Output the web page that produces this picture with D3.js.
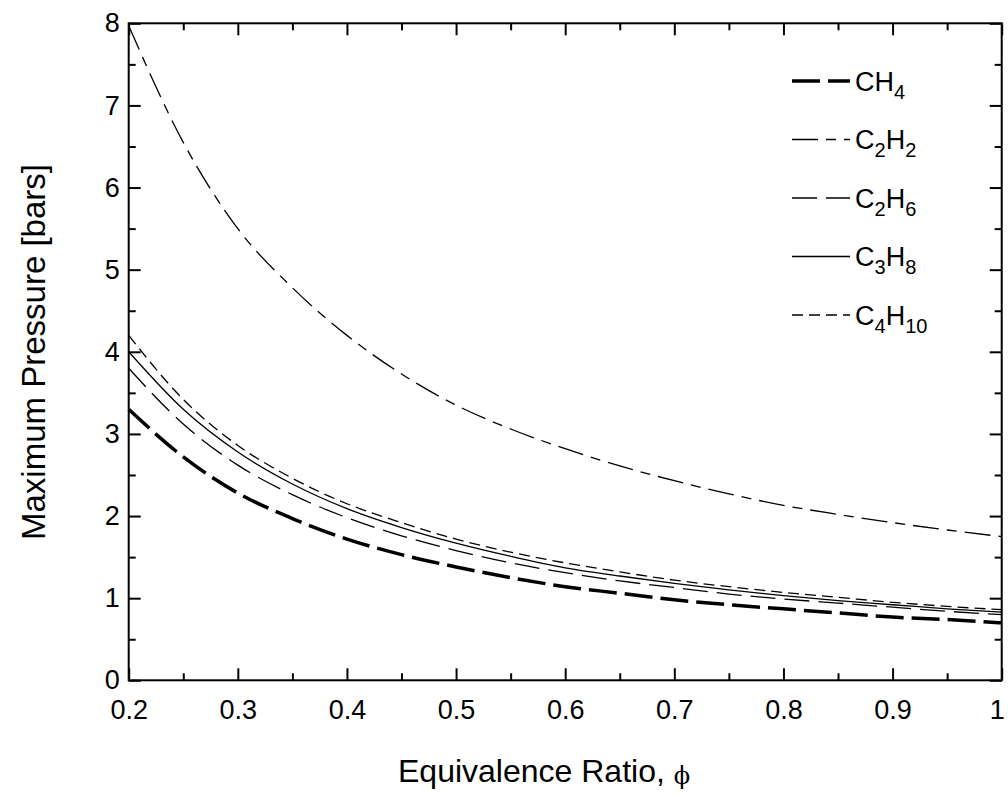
<!DOCTYPE html>
<html>
<head>
<meta charset="utf-8">
<script src="https://cdn.jsdelivr.net/npm/d3@7"></script>
<style>
  body { margin: 0; background: #fff; }
  text { font-family: "Liberation Sans", Arial, sans-serif; fill: #000; }
</style>
</head>
<body>
<div id="chart"></div>
<script>
// values, every 0.05 in phi
var phi = [0.20, 0.25, 0.30, 0.35, 0.40, 0.45, 0.50, 0.55, 0.60, 0.65, 0.70, 0.75, 0.80, 0.85, 0.90, 0.95, 1.00];
var ch4   = [3.30, 2.72, 2.28, 1.97, 1.72, 1.53, 1.38, 1.25, 1.14, 1.06, 0.98, 0.92, 0.87, 0.82, 0.77, 0.74, 0.70];
var c2h2  = [7.97, 6.55, 5.50, 4.78, 4.20, 3.73, 3.35, 3.06, 2.82, 2.61, 2.43, 2.27, 2.13, 2.02, 1.92, 1.83, 1.75];
var c2h6  = [3.80, 3.12, 2.62, 2.26, 1.98, 1.76, 1.58, 1.43, 1.31, 1.21, 1.13, 1.05, 0.99, 0.94, 0.89, 0.84, 0.80];
var c3h8  = [4.00, 3.30, 2.78, 2.39, 2.09, 1.86, 1.67, 1.51, 1.37, 1.27, 1.18, 1.10, 1.03, 0.97, 0.92, 0.87, 0.83];
var c4h10 = [4.20, 3.42, 2.86, 2.46, 2.15, 1.92, 1.72, 1.56, 1.43, 1.32, 1.22, 1.14, 1.07, 1.01, 0.95, 0.90, 0.86];

var xTicks = [0.2, 0.3, 0.4, 0.5, 0.6, 0.7, 0.8, 0.9, 1.0];
var xTickLabels = ["0.2", "0.3", "0.4", "0.5", "0.6", "0.7", "0.8", "0.9", "1"];
var yTicks = [0, 1, 2, 3, 4, 5, 6, 7, 8];

var svgWidth = 1008;
var svgHeight = 796;
var margin = {top: 23.3, right: 6.3, bottom: 115.7, left: 128.7};
var width = svgWidth - margin.left - margin.right;
var height = svgHeight - margin.top - margin.bottom;

var svg = d3.select("#chart")
  .append("svg")
  .attr("width", svgWidth)
  .attr("height", svgHeight);

var chartGroup = svg.append("g")
  .attr("transform", `translate(${margin.left}, ${margin.top})`);

var xScale = d3.scaleLinear().domain([0.2, 1.0]).range([0, width]);
var yScale = d3.scaleLinear().domain([0, 8]).range([height, 0]);

var series = [
  {name: "CH", sub: "4", values: ch4, width: 3.5, dash: "28,8"},
  {name: "C", sub: "2", name2: "H", sub2: "2", values: c2h2, width: 1.3, dash: "26,8,10,8"},
  {name: "C", sub: "2", name2: "H", sub2: "6", values: c2h6, width: 1.3, dash: "25,9"},
  {name: "C", sub: "3", name2: "H", sub2: "8", values: c3h8, width: 1.3, dash: null},
  {name: "C", sub: "4", name2: "H", sub2: "10", values: c4h10, width: 1.3, dash: "11,6"}
];

// axes: ticks point inwards, labels on bottom and left only
var minorX = d3.range(0.25, 1.0, 0.1);
var minorY = d3.range(0.5, 8, 1);

function styleAxis(g) {
  g.select(".domain").remove();
  g.selectAll("line").attr("stroke", "#000").attr("stroke-width", 2);
  g.selectAll("text").attr("font-size", "27px").attr("fill", "#000")
    .style("font-family", "'Liberation Sans', Arial, sans-serif");
}

var xAxisG = chartGroup.append("g")
  .attr("transform", `translate(0, ${height})`)
  .call(d3.axisBottom(xScale).tickValues(xTicks)
    .tickFormat((d, i) => xTickLabels[i]).tickSize(-12).tickPadding(20))
  .call(styleAxis);
// last label sits against the right edge
xAxisG.selectAll(".tick text").filter(d => d === 1.0).attr("dx", -5);

chartGroup.append("g")
  .attr("transform", `translate(0, ${height})`)
  .call(d3.axisBottom(xScale).tickValues(minorX).tickFormat("").tickSize(-7))
  .call(styleAxis);
chartGroup.append("g")
  .call(d3.axisTop(xScale).tickValues(xTicks).tickFormat("").tickSize(-12))
  .call(styleAxis);
chartGroup.append("g")
  .call(d3.axisTop(xScale).tickValues(minorX).tickFormat("").tickSize(-7))
  .call(styleAxis);

chartGroup.append("g")
  .call(d3.axisLeft(yScale).tickValues(yTicks).tickFormat(d3.format("d"))
    .tickSize(-12).tickPadding(9))
  .call(styleAxis);
chartGroup.append("g")
  .call(d3.axisLeft(yScale).tickValues(minorY).tickFormat("").tickSize(-7))
  .call(styleAxis);
chartGroup.append("g")
  .attr("transform", `translate(${width}, 0)`)
  .call(d3.axisRight(yScale).tickValues(yTicks).tickFormat("").tickSize(-12))
  .call(styleAxis);
chartGroup.append("g")
  .attr("transform", `translate(${width}, 0)`)
  .call(d3.axisRight(yScale).tickValues(minorY).tickFormat("").tickSize(-7))
  .call(styleAxis);

// frame
chartGroup.append("rect")
  .attr("width", width)
  .attr("height", height)
  .attr("fill", "none")
  .attr("stroke", "#000")
  .attr("stroke-width", 2);

// curves
var line = d3.line()
  .x((d, i) => xScale(phi[i]))
  .y(d => yScale(d))
  .curve(d3.curveMonotoneX);

chartGroup.selectAll(".curve")
  .data(series)
  .enter()
  .append("path")
  .attr("class", "curve")
  .attr("d", d => line(d.values))
  .attr("fill", "none")
  .attr("stroke", "#000")
  .attr("stroke-width", d => d.width)
  .attr("stroke-dasharray", d => d.dash);

// legend
var legend = svg.append("g");
series.forEach(function(s, i) {
  var ly = 81 + i * 58.5;
  legend.append("line")
    .attr("x1", 792).attr("x2", 850)
    .attr("y1", ly).attr("y2", ly)
    .attr("stroke", "#000")
    .attr("stroke-width", s.width)
    .attr("stroke-dasharray", s.dash);
  var t = legend.append("text")
    .attr("x", 855)
    .attr("y", ly + 9.5)
    .attr("font-size", "27px");
  t.append("tspan").text(s.name);
  t.append("tspan").attr("font-size", "20px").attr("dy", 8).text(s.sub);
  if (s.name2) {
    t.append("tspan").attr("dy", -8).text(s.name2);
    t.append("tspan").attr("font-size", "20px").attr("dy", 8).text(s.sub2);
  }
});

// axis titles
svg.append("text")
  .attr("transform", "rotate(-90)")
  .attr("x", -352)
  .attr("y", 45)
  .attr("font-size", "33px")
  .style("text-anchor", "middle")
  .text("Maximum Pressure [bars]");

var xt = svg.append("text")
  .attr("x", 398)
  .attr("y", 782)
  .attr("font-size", "32px");
xt.append("tspan").text("Equivalence Ratio, ");
xt.append("tspan")
  .attr("font-size", "24px")
  .attr("dy", 2)
  .style("font-family", "'DejaVu Serif', serif")
  .text("\u03D5");
</script>
</body>
</html>
